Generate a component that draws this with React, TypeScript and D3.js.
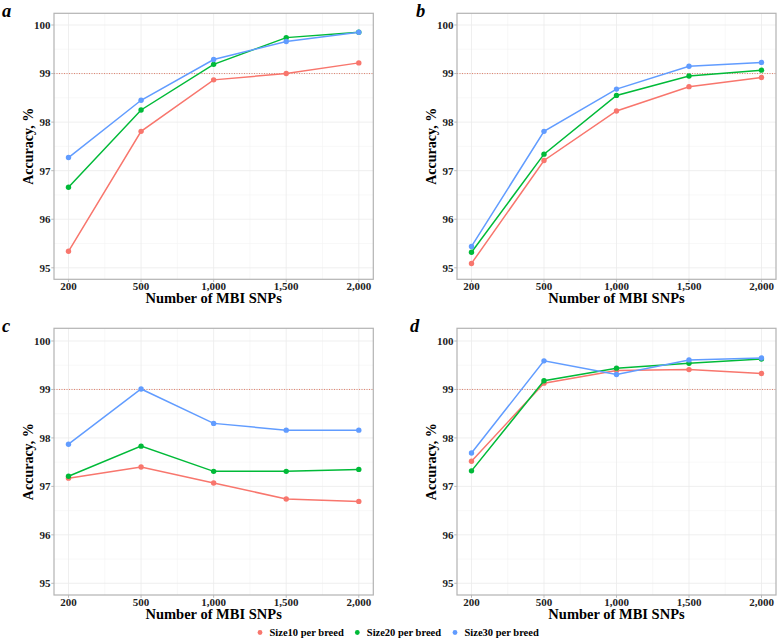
import React from 'react';
import * as d3 from 'd3';

const categories = ['200', '500', '1,000', '1,500', '2,000'];
const seriesNames = ['Size10 per breed', 'Size20 per breed', 'Size30 per breed'];
const colors = ['#F8766D', '#00BA38', '#619CFF'];
const yTicks = [95, 96, 97, 98, 99, 100];
const threshold = 99;

// accuracy values (%) per panel, one array per sample size
const panelA10 = [95.34, 97.81, 98.87, 99.0, 99.22];
const panelA20 = [96.66, 98.25, 99.19, 99.74, 99.85];
const panelA30 = [97.27, 98.45, 99.29, 99.66, 99.85];

const panelB10 = [95.09, 97.21, 98.23, 98.73, 98.92];
const panelB20 = [95.32, 97.34, 98.55, 98.95, 99.07];
const panelB30 = [95.44, 97.81, 98.68, 99.15, 99.23];

const panelC10 = [97.17, 97.4, 97.07, 96.74, 96.69];
const panelC20 = [97.21, 97.83, 97.31, 97.31, 97.35];
const panelC30 = [97.87, 99.01, 98.3, 98.16, 98.16];

const panelD10 = [97.52, 99.13, 99.39, 99.41, 99.33];
const panelD20 = [97.32, 99.18, 99.44, 99.54, 99.63];
const panelD30 = [97.69, 99.59, 99.31, 99.61, 99.65];

const font = '"Liberation Serif", "Times New Roman", serif';

const panels = [
  { label: 'a', series: [panelA10, panelA20, panelA30], left: 54, right: 373.3, top: 13.3, bottom: 279.3, y95: 267.8, y100: 25, labelX: 2, titleX: 33 },
  { label: 'b', series: [panelB10, panelB20, panelB30], left: 457, right: 776, top: 13.3, bottom: 279.3, y95: 267.8, y100: 25, labelX: 416, titleX: 436 },
  { label: 'c', series: [panelC10, panelC20, panelC30], left: 54, right: 373.3, top: 328.3, bottom: 595, y95: 583.3, y100: 341, labelX: 2, titleX: 33 },
  { label: 'd', series: [panelD10, panelD20, panelD30], left: 457, right: 776, top: 328.3, bottom: 595, y95: 583.3, y100: 341, labelX: 410, titleX: 436 },
];

type PanelDef = typeof panels[number];

const Panel: React.FC<{ p: PanelDef }> = ({ p }) => {
  const x = d3.scalePoint<string>().domain(categories).range([p.left + 14.5, p.right - 14.5]);
  const y = d3.scaleLinear().domain([95, 100]).range([p.y95, p.y100]);
  const step = x.step();
  const minorY = d3.range(94.5, 100.5, 1).filter(v => y(v) > p.top && y(v) < p.bottom);
  const minorX = categories.slice(0, -1).map(c => (x(c) as number) + step / 2);
  const line = d3.line<number>()
    .x((_, i) => x(categories[i]) as number)
    .y(d => y(d));

  return (
    <g>
      <rect x={p.left} y={p.top} width={p.right - p.left} height={p.bottom - p.top} fill="#fff" />
      {minorY.map(v => (
        <line key={'my' + v} x1={p.left} x2={p.right} y1={y(v)} y2={y(v)} stroke="#f3f3f3" strokeWidth={0.6} />
      ))}
      {minorX.map((v, i) => (
        <line key={'mx' + i} x1={v} x2={v} y1={p.top} y2={p.bottom} stroke="#f3f3f3" strokeWidth={0.6} />
      ))}
      {yTicks.map(v => (
        <line key={'gy' + v} x1={p.left} x2={p.right} y1={y(v)} y2={y(v)} stroke="#ebebeb" strokeWidth={0.8} />
      ))}
      {categories.map(c => (
        <line key={'gx' + c} x1={x(c)} x2={x(c)} y1={p.top} y2={p.bottom} stroke="#ebebeb" strokeWidth={0.8} />
      ))}
      <line x1={p.left} x2={p.right} y1={y(threshold)} y2={y(threshold)} stroke="#e0806c" strokeWidth={1} strokeDasharray="1,1.5" />
      {p.series.map((vals, si) => (
        <g key={'s' + si}>
          <path d={line(vals) || ''} fill="none" stroke={colors[si]} strokeWidth={1.5} />
          {vals.map((v, i) => (
            <circle key={i} cx={x(categories[i])} cy={y(v)} r={2.7} fill={colors[si]} />
          ))}
        </g>
      ))}
      <rect x={p.left} y={p.top} width={p.right - p.left} height={p.bottom - p.top} fill="none" stroke="#b3b3b3" strokeWidth={1.2} />
      {yTicks.map(v => (
        <g key={'ty' + v}>
          <line x1={p.left - 2.75} x2={p.left} y1={y(v)} y2={y(v)} stroke="#b3b3b3" strokeWidth={0.9} />
          <text x={p.left - 3.5} y={y(v)} dy="0.35em" textAnchor="end" fontFamily={font} fontWeight="bold" fontSize={11} fill="#222">{v}</text>
        </g>
      ))}
      {categories.map(c => (
        <g key={'tx' + c}>
          <line x1={x(c)} x2={x(c)} y1={p.bottom} y2={p.bottom + 2.75} stroke="#b3b3b3" strokeWidth={0.9} />
          <text x={x(c)} y={p.bottom + 10.5} textAnchor="middle" fontFamily={font} fontWeight="bold" fontSize={11} fill="#222">{c}</text>
        </g>
      ))}
      <text x={(p.left + p.right) / 2} y={p.bottom + 24} textAnchor="middle" fontFamily={font} fontWeight="bold" fontSize={14.5} fill="#000">Number of MBI SNPs</text>
      <text transform={`translate(${p.titleX},${(p.top + p.bottom) / 2}) rotate(-90)`} textAnchor="middle" fontFamily={font} fontWeight="bold" fontSize={14} fill="#000">Accuracy, %</text>
      <text x={p.labelX} y={p.top + 4} fontFamily={font} fontWeight="bold" fontStyle="italic" fontSize={18.5} fill="#000">{p.label}</text>
    </g>
  );
};

const legendX = [260, 357.3, 455];

export default function App() {
  return (
    <svg width={777} height={640} style={{ position: 'absolute', left: 0, top: 0, background: '#fff' }}>
      <rect width={777} height={640} fill="#fff" />
      {panels.map(p => <Panel key={p.label} p={p} />)}
      {seriesNames.map((name, i) => (
        <g key={name}>
          <circle cx={legendX[i]} cy={632.5} r={2.4} fill={colors[i]} />
          <text x={legendX[i] + 9.5} y={632.5} dy="0.35em" fontFamily={font} fontWeight="bold" fontSize={10.5} fill="#000">{name}</text>
        </g>
      ))}
    </svg>
  );
}
